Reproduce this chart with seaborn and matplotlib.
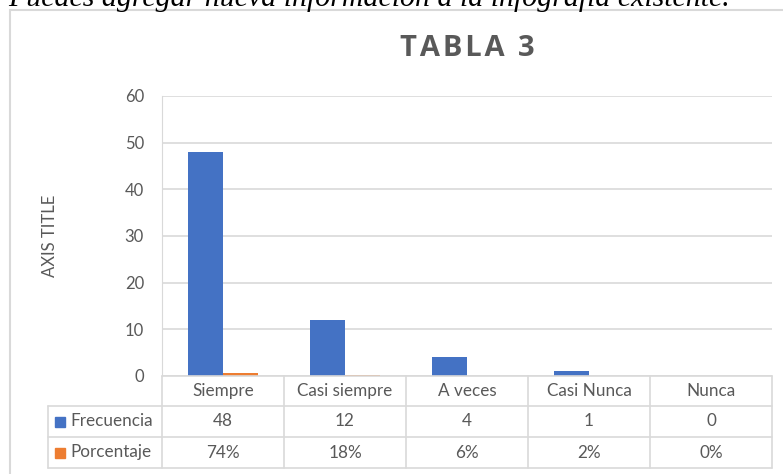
import matplotlib
matplotlib.use("Agg")
import matplotlib.pyplot as plt
from matplotlib.patches import Rectangle
from matplotlib.transforms import blended_transform_factory
import seaborn as sns
import pandas as pd

# Datos
categorias = ["Siempre", "Casi siempre", "A veces", "Casi Nunca", "Nunca"]
frecuencia = [48, 12, 4, 1, 0]
porcentaje = [0.74, 0.18, 0.06, 0.02, 0.00]
series = ["Frecuencia", "Porcentaje"]
colores = ["#4472C4", "#ED7D31"]
y_ticks = [0, 10, 20, 30, 40, 50, 60]

df = pd.DataFrame({
    "categoria": categorias * 2,
    "valor": frecuencia + porcentaje,
    "serie": [series[0]] * len(categorias) + [series[1]] * len(categorias),
})

sns.set_style("white")
plt.rcParams["font.family"] = ["Lato", "DejaVu Sans"]
gris = "#595959"
linea = "#D9D9D9"

W, H = 783, 474
fig = plt.figure(figsize=(W / 100, H / 100), dpi=100)
ax = fig.add_axes([162 / W, 98 / H, 610 / W, 280 / H])

sns.barplot(data=df, x="categoria", y="valor", hue="serie", order=categorias,
            hue_order=series, palette=colores, saturation=1, width=0.574,
            linewidth=0, legend=False, ax=ax)

n = len(categorias)
ax.set_ylim(0, 60)
ax.set_yticks(y_ticks)
ax.set_xlim(-0.5, n - 0.5)
ax.yaxis.grid(True, color=linea, linewidth=1.2)
ax.set_axisbelow(True)
for s in ["top", "right", "bottom"]:
    ax.spines[s].set_visible(False)
ax.spines["left"].set_color(linea)
ax.tick_params(axis="y", length=0, pad=13, labelsize=12, labelcolor=gris)
ax.tick_params(axis="x", length=0, labelbottom=False)
ax.set_xlabel("")
ax.set_ylabel("")
ax.text(-112 / 610, 0.5, "AXIS TITLE", transform=ax.transAxes, rotation=90,
        ha="center", va="center", fontsize=12, color=gris)

# Titulo (con un poco de espacio entre letras)
fig.text(467 / W, (H - 49) / H, "\u200a".join("TABLA 3"),
         ha="center", va="center", fontsize=21, fontweight="bold", color=gris,
         family=["Open Sans", "DejaVu Sans"])

# Tabla de datos bajo el eje (x en unidades de categoria, y en fraccion del eje)
tr = blended_transform_factory(ax.transData, ax.transAxes)
col_px = 610 / n
x_izq = -0.5 - 114 / col_px
bordes_y = [0, -30 / 280, -61 / 280, -92 / 280]
lk = dict(color=linea, lw=1.2, transform=tr, clip_on=False, zorder=3)
ax.plot([-0.5, n - 0.5], [bordes_y[0]] * 2, **lk)
for yb in bordes_y[1:]:
    ax.plot([x_izq, n - 0.5], [yb, yb], **lk)
for i in range(n + 1):
    ax.plot([i - 0.5, i - 0.5], [bordes_y[0], bordes_y[-1]], **lk)
ax.plot([x_izq, x_izq], [bordes_y[1], bordes_y[-1]], **lk)

tk = dict(transform=tr, fontsize=12.3, color=gris, va="center")
filas = [categorias,
         [str(v) for v in frecuencia],
         [f"{round(p * 100)}%" for p in porcentaje]]
for f, textos in enumerate(filas):
    ym = (bordes_y[f] + bordes_y[f + 1]) / 2
    for i, t in enumerate(textos):
        ax.text(i, ym, t, ha="center", **tk)
for j, (nombre, color) in enumerate(zip(series, colores)):
    ym = (bordes_y[j + 1] + bordes_y[j + 2]) / 2
    ax.plot(x_izq + 12 / col_px, ym, marker="s", markersize=7.5, color=color,
            transform=tr, clip_on=False)
    ax.text(x_izq + 22 / col_px, ym, nombre, ha="left", **tk)

# Marco del grafico
fig.add_artist(Rectangle((10 / W, -0.1), 1.1, (H - 10) / H + 0.1,
                         transform=fig.transFigure, fill=False,
                         edgecolor=linea, linewidth=1.5))

# Texto superior cortado
fig.text(8 / W, (H - 6) / H,
         "Puedes agregar nueva información a la infografía existente.",
         family="Liberation Serif", style="italic", fontsize=21.5,
         va="baseline", color="black")

plt.savefig("out.png", dpi=100)
